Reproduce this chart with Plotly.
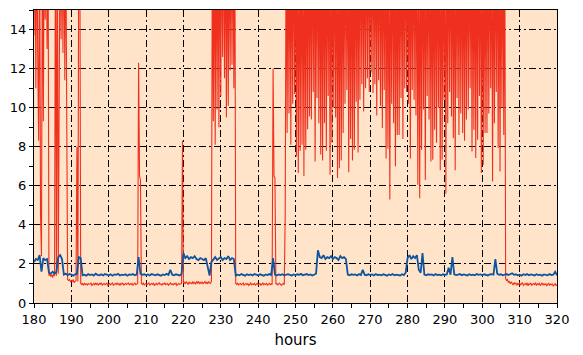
import numpy as np
import plotly.graph_objects as go

# Blue series, one value every 0.5 h from 180 to 320
blue = [
    2.10, 2.25, 2.20, 2.45, 1.60, 2.30, 2.20, 2.25, 1.55, 1.50, 1.60, 1.50, 1.60, 2.35, 2.45, 2.25, 1.45, 1.50, 1.42, 1.48,
    1.45, 1.40, 1.47, 1.50, 2.35, 2.30, 1.42, 1.45, 1.40, 1.48, 1.43, 1.46, 1.40, 1.50, 1.44, 1.42, 1.47, 1.41, 1.48, 1.44,
    1.42, 1.47, 1.40, 1.46, 1.44, 1.49, 1.41, 1.45, 1.43, 1.47, 1.40, 1.46, 1.44, 1.48, 1.42, 1.45, 2.35, 1.50, 1.44, 1.47,
    1.43, 1.46, 1.41, 1.48, 1.44, 1.42, 1.47, 1.45, 1.40, 1.46, 1.43, 1.49, 1.44, 1.70, 1.45, 1.42, 1.47, 1.44, 1.41, 1.48,
    2.55, 2.30, 2.40, 2.25, 2.35, 2.30, 2.40, 2.25, 2.20, 2.30, 2.25, 2.20, 2.30, 1.80, 1.40, 2.10, 2.25, 2.35, 2.20, 2.30,
    2.35, 2.20, 2.30, 2.25, 2.40, 2.20, 2.30, 2.25, 1.40, 1.45, 1.42, 1.48, 1.44, 1.40, 1.47, 1.43, 1.46, 1.41, 1.48, 1.44,
    1.42, 1.47, 1.45, 1.40, 1.46, 1.43, 1.48, 1.44, 2.30, 1.45, 1.41, 1.46, 1.43, 1.47, 1.42, 1.45, 1.48, 1.44, 1.41, 1.46,
    1.43, 1.47, 1.44, 1.49, 1.42, 1.45, 1.48, 1.43, 1.46, 1.41, 1.47, 1.50, 2.70, 2.35, 2.30, 2.45, 2.25, 2.35, 2.30, 2.40,
    2.25, 2.35, 2.30, 2.20, 2.40, 2.30, 2.35, 2.25, 1.45, 1.42, 1.47, 1.44, 1.46, 1.41, 1.48, 1.43, 1.70, 1.45, 1.42, 1.47,
    1.44, 1.46, 1.41, 1.48, 1.43, 1.45, 1.42, 1.47, 1.44, 1.40, 1.46, 1.43, 1.48, 1.42, 1.45, 1.44, 1.41, 1.47, 1.43, 1.55,
    2.30, 2.45, 2.25, 2.40, 2.30, 2.45, 1.70, 1.55, 2.55, 1.45, 1.42, 1.47, 1.44, 1.46, 1.41, 1.48, 1.43, 1.45, 1.42, 1.47,
    1.44, 1.46, 1.80, 1.45, 2.35, 1.47, 1.43, 1.45, 1.48, 1.42, 1.46, 1.44, 1.41, 1.47, 1.43, 1.45, 1.42, 1.48, 1.44, 1.46,
    1.43, 1.47, 1.44, 1.41, 1.46, 1.48, 1.45, 2.25, 1.50, 1.44, 1.47, 1.42, 1.45, 1.48, 1.43, 1.46, 1.52, 1.44, 1.47, 1.42,
    1.45, 1.40, 1.47, 1.43, 1.48, 1.42, 1.46, 1.44, 1.41, 1.47, 1.43, 1.45, 1.40, 1.46, 1.44, 1.42, 1.48, 1.43, 1.45, 1.60,
    1.42,
]

# Red series, one value every 0.25 h from 180 to 320 (values above 15 are off the chart)
red = [
    13.7, 20, 11.0, 20, 12.5, 8.3, 20, 4.5, 2.4, 20, 9.3, 20, 14.5, 20, 13.0, 20, 1.4, 1.5, 1.35, 1.45,
    1.3, 1.5, 1.4, 20, 1.4, 20, 1.5, 8.5, 20, 13.5, 20, 12.8, 20, 11.4, 20, 10.0, 1.2, 1.15, 1.2, 1.1,
    1.15, 1.1, 1.2, 1.05, 1.1, 1.15, 8.0, 1.1, 20, 20, 1.0, 0.95, 1.0, 0.9, 1.02, 0.95, 0.98, 0.92, 1.0, 0.96,
    0.97, 1.02, 0.9, 0.98, 1.0, 0.93, 1.03, 0.95, 0.99, 0.91, 1.0, 0.96, 1.04, 0.92, 0.98, 1.0, 0.94, 0.97, 1.02, 0.9,
    0.96, 1.0, 0.93, 0.98, 1.03, 0.91, 0.97, 1.0, 0.94, 1.02, 0.95, 0.99, 0.9, 1.0, 0.96, 1.03, 0.92, 0.98, 1.0, 0.95,
    0.97, 1.02, 0.93, 0.99, 0.95, 1.0, 0.91, 0.98, 1.03, 0.94, 0.97, 1.0, 12.3, 6.5, 6.3, 1.0, 0.95, 1.02, 0.93, 0.98,
    1.0, 0.94, 0.97, 1.03, 0.92, 0.98, 1.0, 0.95, 1.02, 0.9, 0.97, 1.0, 0.93, 0.99, 1.04, 0.95, 0.98, 0.92, 1.0, 0.96,
    1.02, 0.94, 0.98, 1.0, 0.91, 0.97, 1.03, 0.95, 0.99, 0.93, 1.0, 0.96, 1.02, 0.9, 0.98, 1.0, 0.95, 0.97, 1.0, 8.3,
    1.0, 1.05, 0.98, 1.1, 1.02, 0.95, 1.08, 1.0, 1.04, 0.97, 1.1, 1.0, 1.05, 0.96, 1.08, 1.02, 1.12, 0.98, 1.05, 1.0,
    1.08, 0.97, 1.04, 1.1, 1.0, 1.06, 0.98, 1.1, 1.03, 1.0, 1.12, 20, 9.3, 20, 8.1, 20, 9.9, 20, 9.0, 20,
    10.6, 20, 12.6, 20, 11.5, 20, 9.5, 20, 10.1, 20, 11.9, 20, 12.2, 20, 11.0, 20, 1.0, 0.95, 1.02, 0.92,
    0.98, 1.0, 0.93, 0.97, 1.03, 0.91, 0.96, 1.0, 0.94, 0.99, 0.9, 0.97, 1.02, 0.93, 0.98, 0.95, 1.0, 0.92, 0.97, 1.01,
    0.94, 0.98, 1.0, 0.91, 0.96, 1.02, 0.93, 0.99, 0.95, 1.0, 0.92, 0.97, 1.01, 0.94, 0.98, 0.95, 12.0, 6.5, 6.4, 0.96,
    1.0, 0.93, 0.97, 1.02, 0.95, 0.9, 0.98, 1.0, 0.94, 4.6, 20, 8.7, 20, 9.7, 20, 8.1, 20, 10.2, 20, 10.7,
    20, 7.5, 20, 6.65, 20, 7.8, 20, 8.1, 20, 6.5, 20, 7.85, 20, 8.9, 20, 9.55, 20, 9.4, 20, 10.8,
    20, 7.25, 20, 10.5, 20, 9.2, 20, 7.6, 20, 7.3, 20, 9.2, 20, 7.8, 20, 10.6, 20, 6.56, 20, 8.2,
    20, 10.0, 20, 9.5, 20, 6.4, 20, 6.9, 20, 7.3, 20, 8.7, 20, 10.2, 20, 10.9, 20, 6.7, 20, 8.4,
    20, 7.3, 20, 7.85, 20, 10.3, 20, 7.7, 20, 10.4, 20, 11.2, 20, 9.8, 20, 11.0, 20, 11.5, 20, 10.8,
    20, 11.8, 20, 10.75, 20, 11.2, 20, 9.6, 20, 11.4, 20, 10.1, 20, 8.96, 20, 10.9, 20, 7.4, 20, 7.9,
    20, 5.3, 20, 10.2, 20, 9.2, 20, 7.0, 20, 8.6, 20, 8.6, 20, 10.5, 20, 8.4, 20, 11.0, 20, 10.8,
    20, 10.2, 20, 7.4, 20, 10.9, 20, 10.4, 20, 9.6, 20, 6.05, 20, 5.36, 20, 7.85, 20, 9.9, 20, 6.3,
    20, 10.6, 20, 9.4, 20, 7.25, 20, 7.33, 20, 8.87, 20, 8.2, 20, 10.0, 20, 6.8, 20, 7.33, 20, 10.4,
    20, 5.6, 20, 9.2, 20, 10.8, 20, 9.55, 20, 8.44, 20, 6.8, 20, 10.5, 20, 8.6, 20, 9.7, 20, 8.7,
    20, 8.3, 20, 9.4, 20, 9.9, 20, 11.0, 20, 7.76, 20, 8.87, 20, 7.42, 20, 8.36, 20, 10.6, 20, 6.65,
    20, 7.08, 20, 8.7, 20, 8.7, 20, 9.7, 20, 11.0, 20, 6.22, 20, 9.2, 20, 10.8, 20, 7.93, 20, 6.73,
    20, 10.0, 20, 8.6, 20, 1.25, 1.15, 1.2, 1.05, 1.12, 0.98, 1.08, 1.0, 0.92, 1.05, 0.97, 1.03, 0.9, 1.0, 0.95,
    1.02, 0.93, 0.98, 1.05, 0.9, 0.97, 1.0, 0.94, 1.03, 0.88, 0.99, 0.95, 1.02, 0.91, 0.97, 1.0, 0.93, 1.04, 0.9, 0.98,
    0.95, 1.01, 0.89, 0.97, 1.03, 0.92, 0.98, 0.94, 1.0, 0.87, 0.96, 1.02, 0.9, 0.97, 0.93, 0.99, 0.86, 0.95, 1.0, 0.9,
    0.92,
]

x_start = 180
blue_step = 0.5
red_step = 0.25
hours_blue = x_start + blue_step * np.arange(len(blue))
hours_red = x_start + red_step * np.arange(len(red))

x_ticks = list(range(180, 321, 10))
y_ticks = list(range(0, 15, 2))

RED = "#F0301E"
BLUE = "#0E549E"
BG = "#FFE4CA"
GRID_DASH = "7px,3px,2px,3px"

fig = go.Figure()
fig.add_trace(go.Scatter(x=hours_red, y=red, mode="lines",
                         line=dict(color=RED, width=1.1), hoverinfo="skip"))
fig.add_trace(go.Scatter(x=hours_blue, y=blue, mode="lines",
                         line=dict(color=BLUE, width=1.8), hoverinfo="skip"))

axis_common = dict(
    showline=True, linecolor="black", linewidth=1, mirror=True,
    ticks="outside", ticklen=4, tickwidth=1, tickcolor="black",
    showgrid=True, gridcolor="black", gridwidth=1, griddash=GRID_DASH,
    zeroline=False, tickfont=dict(family="DejaVu Sans", size=13, color="black"),
)

fig.update_xaxes(range=[180, 320], tickvals=x_ticks, ticktext=[str(v) for v in x_ticks],
                 minor=dict(dtick=5, tick0=180, ticks="outside", ticklen=4, tickcolor="black", showgrid=False),
                 title=dict(text="hours", standoff=8, font=dict(family="DejaVu Sans", size=15, color="black")),
                 **axis_common)
fig.update_yaxes(range=[0, 15], tickvals=y_ticks, ticktext=[str(v) for v in y_ticks],
                 minor=dict(dtick=1, tick0=0, ticks="outside", ticklen=4, tickcolor="black", showgrid=False),
                 **axis_common)

fig.update_layout(
    width=583, height=355,
    margin=dict(l=34, r=26, t=10, b=52),
    paper_bgcolor="white", plot_bgcolor=BG,
    showlegend=False,
    font=dict(family="DejaVu Sans", size=13, color="black"),
)

fig.write_html("out.html")
